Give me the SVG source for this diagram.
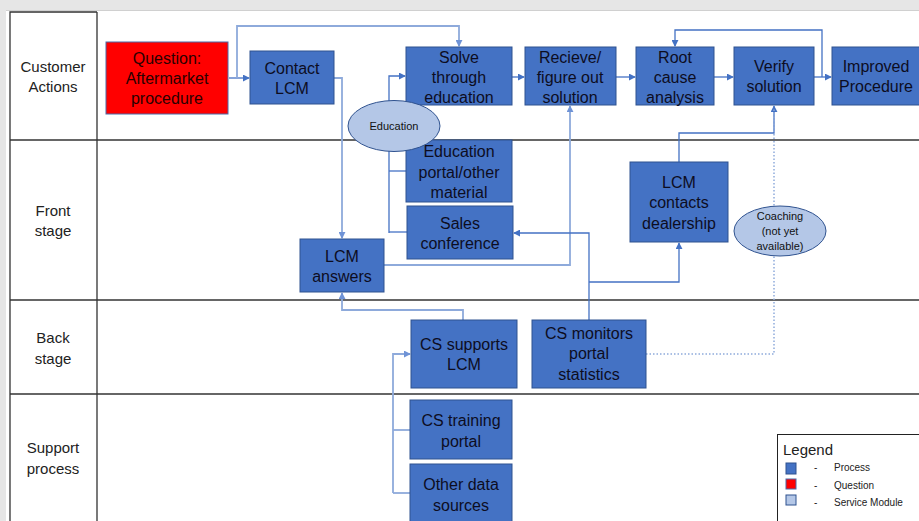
<svg xmlns="http://www.w3.org/2000/svg" width="919" height="521" viewBox="0 0 919 521">
  <defs>
    <style>
      .proc { fill: #4472c4; stroke: #2f528f; stroke-width: 1; }
      .ques { fill: #ff0000; stroke: #4a6aa8; stroke-width: 1; }
      .svc { fill: #b4c7e7; stroke: #2f528f; stroke-width: 1; }
      .t { font-family: "Liberation Sans", Arial, sans-serif; font-size: 16px; fill: #0d0d1f; text-anchor: middle; }
      .tq { font-family: "Liberation Sans", Arial, sans-serif; font-size: 16px; fill: #2a0000; text-anchor: middle; }
      .ts { font-family: "Liberation Sans", Arial, sans-serif; font-size: 11px; fill: #111; text-anchor: middle; }
      .lane { font-family: "Liberation Sans", Arial, sans-serif; font-size: 15px; fill: #222; text-anchor: middle; }
      .lg { font-family: "Liberation Sans", Arial, sans-serif; font-size: 10px; fill: #222; }
      .grid { stroke: #333; stroke-width: 1.3; fill: none; }
      .c { fill: none; stroke: #4472c4; stroke-width: 1.3; }
      .cl { fill: none; stroke: #8eaadb; stroke-width: 1.8; }
      .cd { fill: none; stroke: #8eaadb; stroke-width: 1.5; stroke-dasharray: 1.5 2; }
    </style>
    <marker id="ah" viewBox="0 0 8 8" refX="7" refY="4" markerWidth="7" markerHeight="7" markerUnits="userSpaceOnUse" orient="auto">
      <path d="M0,0 L8,4 L0,8 Z" fill="#4472c4"/>
    </marker>
    <marker id="ahl" viewBox="0 0 8 8" refX="7" refY="4" markerWidth="7" markerHeight="7" markerUnits="userSpaceOnUse" orient="auto">
      <path d="M0,0 L8,4 L0,8 Z" fill="#6f93d6"/>
    </marker>
  </defs>

  <!-- page frame -->
  <rect x="0" y="0" width="919" height="521" fill="#ffffff"/>
  <rect x="0" y="0" width="919" height="10" fill="#e6e6e6"/>
  <rect x="0" y="0" width="6" height="521" fill="#e6e6e6"/>
  <line x1="6" y1="10.5" x2="919" y2="10.5" stroke="#d0d0d0" stroke-width="1"/>

  <!-- swimlane grid -->
  <g id="lanes">
    <path class="grid" d="M10,521 V12 H97 M97,12 V521"/>
    <line class="grid" x1="10" y1="140" x2="919" y2="140"/>
    <line class="grid" x1="10" y1="300" x2="919" y2="300"/>
    <line class="grid" x1="10" y1="394" x2="919" y2="394"/>
    <text class="lane" x="53" y="72">Customer</text>
    <text class="lane" x="53" y="92">Actions</text>
    <text class="lane" x="53" y="216">Front</text>
    <text class="lane" x="53" y="236">stage</text>
    <text class="lane" x="53" y="343">Back</text>
    <text class="lane" x="53" y="364">stage</text>
    <text class="lane" x="53" y="453">Support</text>
    <text class="lane" x="53" y="474">process</text>
  </g>

  <!-- connectors -->
  <g id="connectors">
    <path class="c" d="M229,78 H249" marker-end="url(#ah)"/>
    <path class="cl" d="M237,78 V26 H459 V46" marker-end="url(#ahl)"/>
    <path class="cl" d="M334,78 H342 V238" marker-end="url(#ahl)"/>
    <path class="c" d="M389,233 V76 H405" marker-end="url(#ah)"/>
    <path class="c" d="M389,171 H406"/>
    <path class="c" d="M389,232 H407"/>
    <path class="c" d="M512,77 H524" marker-end="url(#ah)"/>
    <path class="c" d="M616,77 H635" marker-end="url(#ah)"/>
    <path class="c" d="M714,77 H733" marker-end="url(#ah)"/>
    <path class="c" d="M814,77 H831" marker-end="url(#ah)"/>
    <path class="c" d="M822,77 V30 H675 V46" marker-end="url(#ah)"/>
    <path class="cl" d="M384,265 H570 V106" marker-end="url(#ahl)"/>
    <path class="c" d="M589,320 V233 H514" marker-end="url(#ah)"/>
    <path class="c" d="M589,282 H679 V243" marker-end="url(#ah)"/>
    <path class="c" d="M679,162 V133 H774 V106" marker-end="url(#ah)"/>
    <path class="cd" d="M646,354 H774 V108"/>
    <path class="cl" d="M463,320 V310 H342 V293" marker-end="url(#ahl)"/>
    <path class="cl" d="M393,493 V354 H410" marker-end="url(#ahl)"/>
    <path class="cl" d="M393,430 H410"/>
    <path class="cl" d="M393,493 H410"/>
  </g>

  <!-- customer actions -->
  <g id="question">
    <rect class="ques" x="106" y="42" width="122" height="72"/>
    <text class="tq" x="167" y="63.5">Question:</text>
    <text class="tq" x="167" y="83.5">Aftermarket</text>
    <text class="tq" x="167" y="103.5">procedure</text>
  </g>
  <g id="contact-lcm">
    <rect class="proc" x="250" y="51" width="84" height="53"/>
    <text class="t" x="292" y="73.5">Contact</text>
    <text class="t" x="292" y="93.5">LCM</text>
  </g>
  <g id="solve-education">
    <rect class="proc" x="406" y="47" width="106" height="58"/>
    <text class="t" x="459" y="62.5">Solve</text>
    <text class="t" x="459" y="82.5">through</text>
    <text class="t" x="459" y="102.5">education</text>
  </g>
  <g id="figure-out-solution">
    <rect class="proc" x="525" y="47" width="91" height="58"/>
    <text class="t" x="570" y="62.5">Recieve/</text>
    <text class="t" x="570" y="82.5">figure out</text>
    <text class="t" x="570" y="102.5">solution</text>
  </g>
  <g id="root-cause">
    <rect class="proc" x="636" y="47" width="78" height="58"/>
    <text class="t" x="675" y="62.5">Root</text>
    <text class="t" x="675" y="82.5">cause</text>
    <text class="t" x="675" y="102.5">analysis</text>
  </g>
  <g id="verify-solution">
    <rect class="proc" x="734" y="47" width="80" height="58"/>
    <text class="t" x="774" y="71.5">Verify</text>
    <text class="t" x="774" y="91.5">solution</text>
  </g>
  <g id="improved-procedure">
    <rect class="proc" x="832" y="47" width="92" height="58"/>
    <text class="t" x="876" y="71.5">Improved</text>
    <text class="t" x="876" y="91.5">Procedure</text>
  </g>

  <!-- front stage -->
  <g id="education-portal">
    <rect class="proc" x="406" y="140" width="106" height="62"/>
    <text class="t" x="459" y="156.5">Education</text>
    <text class="t" x="459" y="177.5">portal/other</text>
    <text class="t" x="459" y="197.5">material</text>
  </g>
  <g id="education">
    <ellipse class="svc" cx="394" cy="126" rx="46" ry="25.5"/>
    <text class="ts" x="394" y="130">Education</text>
  </g>
  <g id="sales-conference">
    <rect class="proc" x="407" y="206" width="106" height="53"/>
    <text class="t" x="460" y="228.5">Sales</text>
    <text class="t" x="460" y="248.5">conference</text>
  </g>
  <g id="lcm-answers">
    <rect class="proc" x="300" y="239" width="84" height="53"/>
    <text class="t" x="342" y="261.5">LCM</text>
    <text class="t" x="342" y="281.5">answers</text>
  </g>
  <g id="lcm-contacts-dealership">
    <rect class="proc" x="630" y="162" width="98" height="80"/>
    <text class="t" x="679" y="187.5">LCM</text>
    <text class="t" x="679" y="207.5">contacts</text>
    <text class="t" x="679" y="228.5">dealership</text>
  </g>
  <g id="coaching">
    <ellipse class="svc" cx="780" cy="231" rx="46" ry="25"/>
    <text class="ts" x="780" y="220" font-size="10.5">Coaching</text>
    <text class="ts" x="780" y="235" font-size="10.5">(not yet</text>
    <text class="ts" x="780" y="250" font-size="10.5">available)</text>
  </g>

  <!-- back stage -->
  <g id="cs-supports-lcm">
    <rect class="proc" x="411" y="320" width="106" height="68"/>
    <text class="t" x="464" y="349.5">CS supports</text>
    <text class="t" x="464" y="369.5">LCM</text>
  </g>
  <g id="cs-monitors-portal">
    <rect class="proc" x="532" y="320" width="114" height="68"/>
    <text class="t" x="589" y="338.5">CS monitors</text>
    <text class="t" x="589" y="358.5">portal</text>
    <text class="t" x="589" y="379.5">statistics</text>
  </g>

  <!-- support process -->
  <g id="cs-training-portal">
    <rect class="proc" x="410" y="400" width="102" height="59"/>
    <text class="t" x="461" y="425.5">CS training</text>
    <text class="t" x="461" y="446.5">portal</text>
  </g>
  <g id="other-data-sources">
    <rect class="proc" x="410" y="464" width="102" height="62"/>
    <text class="t" x="461" y="489.5">Other data</text>
    <text class="t" x="461" y="510.5">sources</text>
  </g>

  <!-- legend -->
  <g id="legend">
    <rect x="777.5" y="434.5" width="150" height="100" fill="#ffffff" stroke="#222" stroke-width="1"/>
    <text x="783" y="455" font-family="Liberation Sans, Arial, sans-serif" font-size="15" fill="#222">Legend</text>
    <rect class="proc" x="786" y="463" width="10" height="11"/>
    <rect class="ques" x="786" y="479" width="10" height="10" stroke="#2f528f"/>
    <rect class="svc" x="786" y="495" width="10" height="10"/>
    <text class="lg" x="814" y="470.5">-</text>
    <text class="lg" x="814" y="488.5">-</text>
    <text class="lg" x="814" y="505.5">-</text>
    <text class="lg" x="834" y="470.5">Process</text>
    <text class="lg" x="834" y="488.5">Question</text>
    <text class="lg" x="834" y="505.5">Service Module</text>
  </g>
</svg>
